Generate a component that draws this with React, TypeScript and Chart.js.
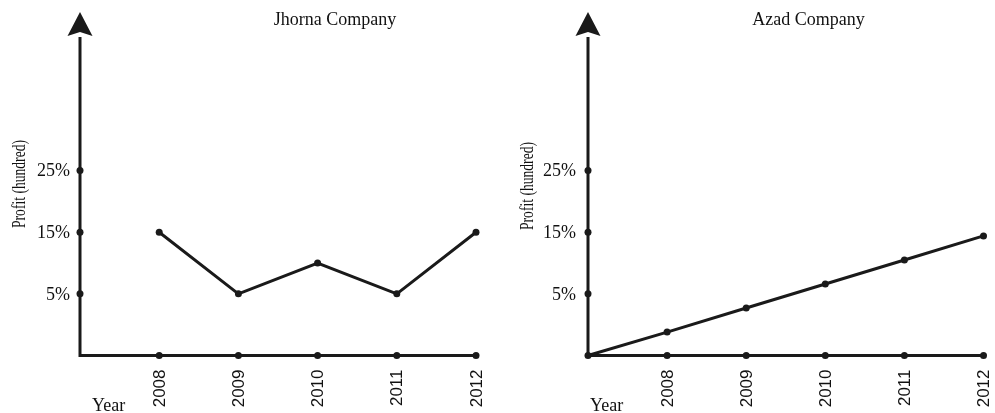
import React, { useEffect, useRef } from "react";
import { Chart, registerables } from "chart.js";

Chart.register(...registerables);

// ---------- data ----------
const yearLabels = ["2008", "2009", "2010", "2011", "2012"];
const years = [2008, 2009, 2010, 2011, 2012];
const yTickValues = [5, 15, 25];
const yTickLabels = ["5%", "15%", "25%"];

const jhornaYears = [2008, 2009, 2010, 2011, 2012];
const jhornaProfit = [15, 5, 10, 5, 15];

// Azad's line starts at the axis origin (one step before 2008)
const azadYears = [2007, 2008, 2009, 2010, 2011, 2012];
const azadProfit = [-5, -1.2, 2.7, 6.6, 10.5, 14.4];

const chartTitles = ["Jhorna Company", "Azad Company"];
const yAxisTitle = "Profit (hundred)";
const xAxisTitle = "Year";

// ---------- style ----------
const INK = "#1a1a1a";
const TEXT = "#111111";
const SERIF = '"Liberation Serif", "Times New Roman", serif';
const SANS = '"Liberation Sans", Arial, sans-serif';
const X_MIN = 2007;
const X_MAX = 2012;
const Y_MIN = -5;
const Y_MAX = 47;

type Decor = {
  title: string;
  titleX: number;
  tickLabelGap: number;
  yearDx: number;
  profitY: number;
};

const makeDecorPlugin = (d: Decor) => ({
  id: "decor",
  beforeDatasetsDraw(chart: any) {
    const { ctx, chartArea, scales } = chart;
    const x = scales.x;
    const y = scales.y;
    const ax = x.getPixelForValue(X_MIN);
    const ay = y.getPixelForValue(Y_MIN);
    const xEnd = x.getPixelForValue(X_MAX);
    const top = chartArea.top;

    ctx.save();
    // axes
    ctx.strokeStyle = INK;
    ctx.lineWidth = 3;
    ctx.lineJoin = "miter";
    ctx.beginPath();
    ctx.moveTo(ax, top + 2);
    ctx.lineTo(ax, ay);
    ctx.lineTo(xEnd, ay);
    ctx.stroke();

    // arrow head
    ctx.fillStyle = INK;
    ctx.beginPath();
    ctx.moveTo(ax, top - 23);
    ctx.lineTo(ax + 12.5, top + 1);
    ctx.lineTo(ax, top - 3);
    ctx.lineTo(ax - 12.5, top + 1);
    ctx.closePath();
    ctx.fill();

    // tick dots
    years.forEach((yr) => {
      ctx.beginPath();
      ctx.arc(x.getPixelForValue(yr), ay, 3.5, 0, Math.PI * 2);
      ctx.fill();
    });
    yTickValues.forEach((v) => {
      ctx.beginPath();
      ctx.arc(ax, y.getPixelForValue(v), 3.5, 0, Math.PI * 2);
      ctx.fill();
    });

    // y tick labels
    ctx.fillStyle = TEXT;
    ctx.font = `18px ${SERIF}`;
    ctx.textAlign = "right";
    ctx.textBaseline = "middle";
    yTickValues.forEach((v, i) => {
      ctx.fillText(yTickLabels[i], ax - d.tickLabelGap, y.getPixelForValue(v) + 1);
    });

    // x tick labels (rotated)
    ctx.font = `17px ${SANS}`;
    years.forEach((yr, i) => {
      ctx.save();
      ctx.translate(x.getPixelForValue(yr) + 1, ay + 14);
      ctx.rotate(-Math.PI / 2);
      ctx.textAlign = "right";
      ctx.textBaseline = "middle";
      ctx.fillText(yearLabels[i], 0, 0);
      ctx.restore();
    });

    // y axis title (rotated, condensed)
    ctx.save();
    ctx.font = `18px ${SERIF}`;
    const w = ctx.measureText(yAxisTitle).width;
    ctx.translate(ax - 60, d.profitY);
    ctx.rotate(-Math.PI / 2);
    ctx.scale(88 / w, 1);
    ctx.textAlign = "center";
    ctx.textBaseline = "middle";
    ctx.fillText(yAxisTitle, 0, 0);
    ctx.restore();

    // x axis title
    ctx.font = `18px ${SERIF}`;
    ctx.textAlign = "left";
    ctx.textBaseline = "alphabetic";
    ctx.fillText(xAxisTitle, ax + d.yearDx, 411);

    // chart title
    ctx.textAlign = "center";
    ctx.fillText(d.title, d.titleX, 24.5);
    ctx.restore();
  },
});

type PanelProps = {
  xs: number[];
  ys: number[];
  width: number;
  padLeft: number;
  padRight: number;
  decor: Decor;
};

function Panel({ xs, ys, width, padLeft, padRight, decor }: PanelProps) {
  const ref = useRef<HTMLCanvasElement | null>(null);
  useEffect(() => {
    if (!ref.current) return;
    const chart = new Chart(ref.current, {
      type: "line",
      data: {
        datasets: [
          {
            data: xs.map((x, i) => ({ x, y: ys[i] })),
            borderColor: INK,
            borderWidth: 3,
            pointRadius: 3.5,
            pointBackgroundColor: INK,
            pointBorderWidth: 0,
            pointHoverRadius: 3.5,
            tension: 0,
            clip: false as any,
          },
        ],
      },
      options: {
        responsive: false,
        animation: false,
        devicePixelRatio: 1,
        events: [],
        layout: {
          autoPadding: false,
          padding: { left: padLeft, right: padRight, top: 35, bottom: 57.5 },
        },
        scales: {
          x: { type: "linear", min: X_MIN, max: X_MAX, display: false },
          y: { type: "linear", min: Y_MIN, max: Y_MAX, display: false },
        },
        plugins: {
          legend: { display: false },
          tooltip: { enabled: false },
          title: { display: false },
        },
      } as any,
      plugins: [makeDecorPlugin(decor)],
    });
    return () => chart.destroy();
  }, []);
  return (
    <canvas
      ref={ref}
      width={width}
      height={413}
      style={{ display: "block", width, height: 413 }}
    />
  );
}

export default function App() {
  return (
    <div
      style={{
        position: "absolute",
        left: 0,
        top: 0,
        width: 995,
        height: 413,
        background: "#ffffff",
        display: "flex",
      }}
    >
      <Panel
        xs={jhornaYears}
        ys={jhornaProfit}
        width={497}
        padLeft={80}
        padRight={21}
        decor={{ title: chartTitles[0], titleX: 335, tickLabelGap: 10, yearDx: 12, profitY: 184 }}
      />
      <Panel
        xs={azadYears}
        ys={azadProfit}
        width={498}
        padLeft={91}
        padRight={11.5}
        decor={{ title: chartTitles[1], titleX: 311.5, tickLabelGap: 12, yearDx: 2, profitY: 186 }}
      />
    </div>
  );
}
